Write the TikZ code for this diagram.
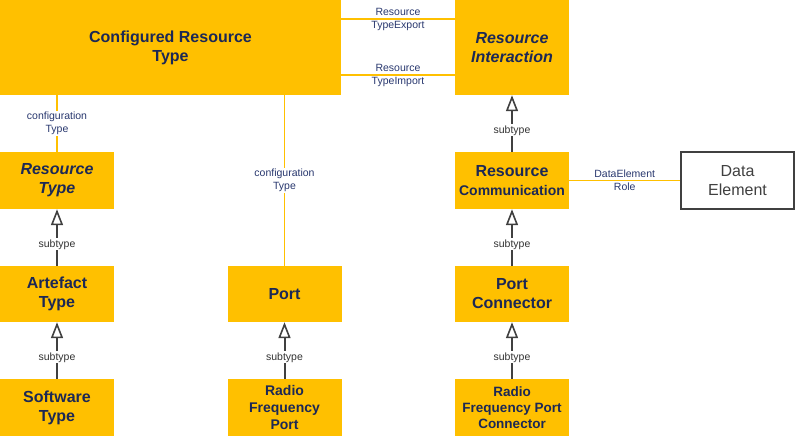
\documentclass[tikz,border=0pt]{standalone}
\usepackage{fontspec}
\setmainfont{Liberation Sans}
\usetikzlibrary{arrows.meta}
\definecolor{org}{RGB}{255,192,0}
\definecolor{boxtxt}{RGB}{28,40,85}
\definecolor{lbltxt}{RGB}{40,55,110}
\definecolor{gencol}{RGB}{64,64,64}
\definecolor{subcol}{RGB}{50,50,50}
\begin{document}
\begin{tikzpicture}[x=1pt,y=-1pt,
  box/.style={fill=org, draw=none, inner sep=0, align=center, text=boxtxt,
    font=\fontsize{16}{19}\selectfont\bfseries},
  ibox/.style={box, font=\fontsize{16}{19}\selectfont\bfseries\itshape},
  wide/.style={minimum width=114, minimum height=57},
  assoc/.style={draw=org, line width=1.8},
  lbl/.style={font=\fontsize{10.5}{13}\selectfont, text=lbltxt, align=center, inner sep=1},
  wlbl/.style={lbl, fill=white},
  genl/.style={draw=gencol, line width=2, -{Triangle[open, length=16, width=12, line width=1.6]}},
  sublbl/.style={font=\fontsize{10.5}{13}\selectfont, text=subcol, fill=white, inner sep=1}]
\useasboundingbox (0,0) rectangle (796,436);

\node[box, minimum width=341, minimum height=95] (crt) at (170.5,47.5) {Configured Resource\\Type};
\node[ibox, minimum width=114, minimum height=95] (ri) at (512,47.5) {Resource\\Interaction};
\node[ibox, wide] (rt) at (57,180.5) {Resource\\Type};
\node[box, wide] (rc) at (512,180.5) {Resource\\{\fontsize{14}{17}\selectfont Communication}};
\node[wide, minimum width=113, fill=white, draw=gencol, line width=1.5, inner sep=0, align=center,
  text=gencol, font=\fontsize{16}{19}\selectfont] (de) at (737.5,180.5) {Data\\Element};
\node[box, wide, minimum height=56] (at) at (57,294) {Artefact\\Type};
\node[box, wide, minimum height=56] (port) at (284.5,294) {Port};
\node[box, wide, minimum height=56] (pc) at (512,294) {Port\\Connector};
\node[box, wide] (st) at (57,407.5) {Software\\Type};
\node[box, wide, font=\fontsize{14}{17}\selectfont\bfseries] (rfp) at (284.5,407.5) {Radio\\Frequency\\Port};
\node[box, wide, font=\fontsize{13.5}{16}\selectfont\bfseries] (rfpc) at (512,407.5) {Radio\\Frequency Port\\Connector};

% associations
\draw[assoc] (crt.east |- 0,19) -- node[lbl] {Resource\\TypeExport} (ri.west |- 0,19);
\draw[assoc] (crt.east |- 0,75) -- node[lbl] {Resource\\TypeImport} (ri.west |- 0,75);
\draw[assoc] (rt.north |- crt.south) -- node[wlbl] {configuration\\Type} (rt.north);
\draw[assoc] (port.north |- crt.south) -- node[wlbl] {configuration\\Type} (port.north);
\draw[assoc] (rc.east) -- node[lbl] {DataElement\\Role} (de.west);

% generalizations
\draw[genl] (at.north) -- node[sublbl, pos=0.38] {subtype} (rt.south);
\draw[genl] (st.north) -- node[sublbl, pos=0.38] {subtype} (at.south);
\draw[genl] (rfp.north) -- node[sublbl, pos=0.38] {subtype} (port.south);
\draw[genl] (rc.north) -- node[sublbl, pos=0.38] {subtype} (ri.south);
\draw[genl] (pc.north) -- node[sublbl, pos=0.38] {subtype} (rc.south);
\draw[genl] (rfpc.north) -- node[sublbl, pos=0.38] {subtype} (pc.south);
\end{tikzpicture}
\end{document}
